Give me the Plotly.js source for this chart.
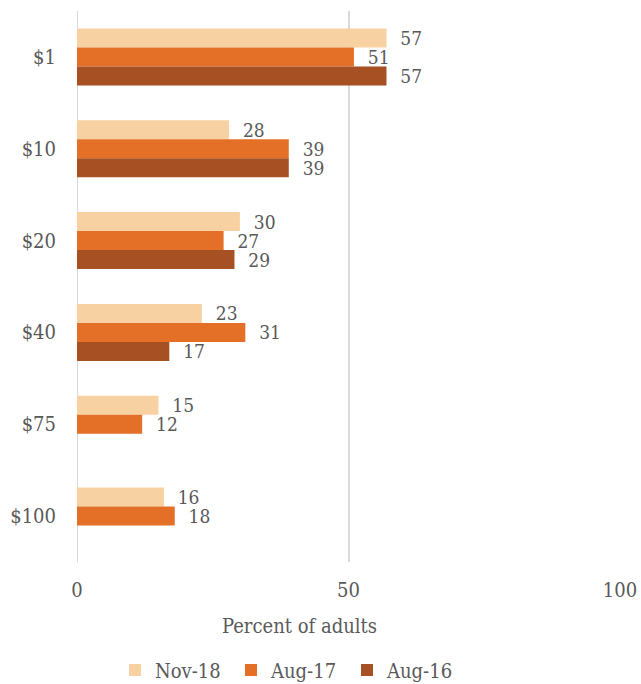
<!DOCTYPE html>
<html>
<head>
<meta charset="utf-8">
<script src="https://cdn.plot.ly/plotly-3.0.1.min.js"></script>
<style>html,body{margin:0;padding:0;background:#fff;}#chart{width:641px;height:684px;}</style>
</head>
<body>
<div id="chart"></div>
<script>
const categories = ["$1", "$10", "$20", "$40", "$75", "$100"];
const seriesNames = ["Nov-18", "Aug-17", "Aug-16"];
const nov18 = [57, 28, 30, 23, 15, 16];
const aug17 = [51, 39, 27, 31, 12, 18];
const aug16 = [57, 39, 29, 17, null, null];
const xTicks = [0, 50, 100];
const colors = ["#F8D1A2", "#E37026", "#A65023"];
const xTitle = "Percent of adults";

const FONT = "DejaVu Serif Condensed, DejaVu Serif, serif";
const TXT = "#595959";

function mk(name, vals, color) {
  return {
    type: "bar", orientation: "h", name: name,
    y: categories, x: vals,
    marker: {color: color},
    text: vals.map(v => v == null ? "" : "\u00a0\u00a0" + v),
    textposition: "outside",
    constraintext: "none",
    cliponaxis: false,
    textfont: {family: FONT, size: 19, color: TXT},
    hoverinfo: "x+name"
  };
}

const data = [mk(seriesNames[0], nov18, colors[0]), mk(seriesNames[1], aug17, colors[1]), mk(seriesNames[2], aug16, colors[2])];

const layout = {
  width: 641, height: 684,
  margin: {l: 77, r: 21, t: 11, b: 122, autoexpand: false},
  paper_bgcolor: "#fff", plot_bgcolor: "#fff",
  barmode: "group", bargap: 0.38, bargroupgap: 0,
  font: {family: FONT, size: 20, color: TXT},
  showlegend: true,
  xaxis: {
    range: [0, 100], tickvals: xTicks, ticktext: xTicks.map(String),
    showgrid: true, gridcolor: "#D9D9D9", gridwidth: 2,
    zeroline: false, showline: false, ticks: "",
    ticklabelstandoff: 14,
    tickfont: {family: FONT, size: 20, color: TXT},
    automargin: false, fixedrange: true
  },
  yaxis: {
    type: "category", autorange: "reversed",
    showgrid: false, zeroline: false, showline: false, ticks: "",
    ticklabelstandoff: 20,
    tickfont: {family: FONT, size: 20, color: TXT},
    automargin: false, fixedrange: true
  },
  annotations: [{
    text: xTitle, xref: "paper", yref: "paper", x: 0.409, y: -0.116,
    xanchor: "center", yanchor: "middle", showarrow: false,
    font: {family: FONT, size: 20, color: TXT}
  }],
  shapes: [{type: "line", xref: "x", yref: "paper", x0: 0, x1: 0, y0: 0, y1: 1, line: {color: "#D9D9D9", width: 2}, layer: "below"}],
  legend: {
    orientation: "h", x: 0.07, xanchor: "left", y: -0.196, yanchor: "middle",
    entrywidth: 71, entrywidthmode: "pixels",
    font: {family: FONT, size: 20, color: TXT},
    itemclick: false, itemdoubleclick: false
  }
};

Plotly.newPlot("chart", data, layout, {displayModeBar: false, staticPlot: true});
</script>
</body>
</html>
